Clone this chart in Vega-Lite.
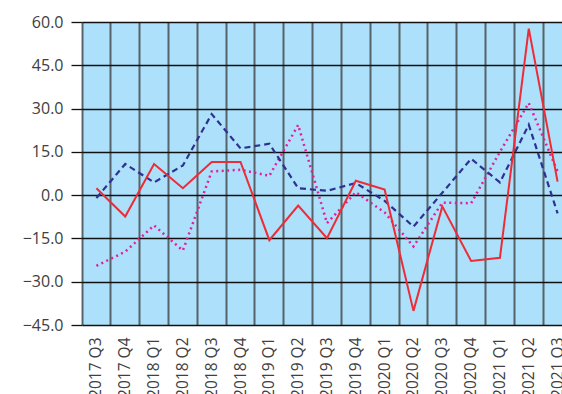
{
  "$schema": "https://vega.github.io/schema/vega-lite/v6.json",
  "autosize": {"type": "none"},
  "padding": {"left": 82, "top": 22, "right": 0, "bottom": 69},
  "width": 490,
  "height": 303,
  "background": "white",
  "config": {
    "view": {"fill": "#ADE0FA", "stroke": null},
    "font": "Open Sans"
  },
  "data": {
    "values": [
      {"q": "2017 Q3", "s": "A", "v": 2.4}, {"q": "2017 Q4", "s": "A", "v": -7.4},
      {"q": "2018 Q1", "s": "A", "v": 10.8}, {"q": "2018 Q2", "s": "A", "v": 2.4},
      {"q": "2018 Q3", "s": "A", "v": 11.5}, {"q": "2018 Q4", "s": "A", "v": 11.5},
      {"q": "2019 Q1", "s": "A", "v": -15.6}, {"q": "2019 Q2", "s": "A", "v": -3.6},
      {"q": "2019 Q3", "s": "A", "v": -14.9}, {"q": "2019 Q4", "s": "A", "v": 5.0},
      {"q": "2020 Q1", "s": "A", "v": 1.9}, {"q": "2020 Q2", "s": "A", "v": -40.1},
      {"q": "2020 Q3", "s": "A", "v": -3.9}, {"q": "2020 Q4", "s": "A", "v": -22.8},
      {"q": "2021 Q1", "s": "A", "v": -21.7}, {"q": "2021 Q2", "s": "A", "v": 57.7},
      {"q": "2021 Q3", "s": "A", "v": 4.7},
      {"q": "2017 Q3", "s": "B", "v": -1.0}, {"q": "2017 Q4", "s": "B", "v": 10.8},
      {"q": "2018 Q1", "s": "B", "v": 4.4}, {"q": "2018 Q2", "s": "B", "v": 10.3},
      {"q": "2018 Q3", "s": "B", "v": 28.1}, {"q": "2018 Q4", "s": "B", "v": 16.2},
      {"q": "2019 Q1", "s": "B", "v": 17.8}, {"q": "2019 Q2", "s": "B", "v": 2.4},
      {"q": "2019 Q3", "s": "B", "v": 1.5}, {"q": "2019 Q4", "s": "B", "v": 4.2},
      {"q": "2020 Q1", "s": "B", "v": -2.0}, {"q": "2020 Q2", "s": "B", "v": -10.9},
      {"q": "2020 Q3", "s": "B", "v": 0.8}, {"q": "2020 Q4", "s": "B", "v": 12.6},
      {"q": "2021 Q1", "s": "B", "v": 4.4}, {"q": "2021 Q2", "s": "B", "v": 24.4},
      {"q": "2021 Q3", "s": "B", "v": -6.3},
      {"q": "2017 Q3", "s": "C", "v": -24.5}, {"q": "2017 Q4", "s": "C", "v": -19.6},
      {"q": "2018 Q1", "s": "C", "v": -10.5}, {"q": "2018 Q2", "s": "C", "v": -19.2},
      {"q": "2018 Q3", "s": "C", "v": 8.2}, {"q": "2018 Q4", "s": "C", "v": 8.8},
      {"q": "2019 Q1", "s": "C", "v": 6.7}, {"q": "2019 Q2", "s": "C", "v": 24.3},
      {"q": "2019 Q3", "s": "C", "v": -9.7}, {"q": "2019 Q4", "s": "C", "v": 1.0},
      {"q": "2020 Q1", "s": "C", "v": -6.0}, {"q": "2020 Q2", "s": "C", "v": -17.8},
      {"q": "2020 Q3", "s": "C", "v": -2.6}, {"q": "2020 Q4", "s": "C", "v": -2.8},
      {"q": "2021 Q1", "s": "C", "v": 15.0}, {"q": "2021 Q2", "s": "C", "v": 31.9},
      {"q": "2021 Q3", "s": "C", "v": 8.2}
    ]
  },
  "encoding": {
    "x": {
      "field": "q", "type": "ordinal",
      "scale": {"type": "band", "paddingInner": 0, "paddingOuter": 0},
      "axis": {
        "title": null, "domain": false, "ticks": false,
        "labelAngle": -90, "labelAlign": "right", "labelBaseline": "middle",
        "labelPadding": 12, "labelFontSize": 15.5, "labelColor": "#404040",
        "labelFont": "Open Sans",
        "grid": true, "bandPosition": 0, "gridColor": "#3a3a3a", "gridOpacity": 0.75, "gridWidth": 2
      }
    },
    "y": {
      "field": "v", "type": "quantitative",
      "scale": {"domain": [-45, 60], "nice": false, "zero": false},
      "axis": {
        "title": null, "domain": false,
        "values": [-45, -30, -15, 0, 15, 30, 45, 60],
        "format": ".1f", "tickSize": 11, "tickColor": "#111", "tickWidth": 1.3,
        "labelPadding": 8, "labelFontSize": 16, "labelColor": "#404040",
        "labelFont": "Open Sans",
        "grid": true, "gridColor": "#111", "gridWidth": 1.3, "gridOpacity": 1
      }
    }
  },
  "layer": [
    {
      "transform": [{"filter": "datum.s === 'C'"}],
      "mark": {"type": "line", "color": "#E0209C", "strokeWidth": 2.5, "strokeDash": [2, 3.5], "strokeCap": "butt"}
    },
    {
      "transform": [{"filter": "datum.s === 'B'"}],
      "mark": {"type": "line", "color": "#2E3192", "strokeWidth": 2.2, "strokeDash": [6, 4]}
    },
    {
      "transform": [{"filter": "datum.s === 'A'"}],
      "mark": {"type": "line", "color": "#EE2B36", "strokeWidth": 2}
    }
  ]
}
